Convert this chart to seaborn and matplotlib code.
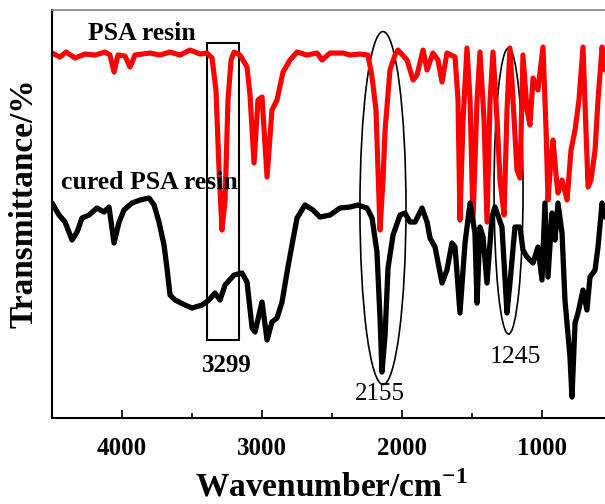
import matplotlib
matplotlib.use("Agg")
import matplotlib.pyplot as plt
from matplotlib.patches import Rectangle, Ellipse
import seaborn as sns
import pandas as pd

# PSA resin (red)
red_wn = [4500, 4443, 4400, 4336, 4264, 4193, 4121, 4086, 4057, 4029, 3979, 3943, 3907,
          3800, 3729, 3657, 3586, 3514, 3443, 3393, 3357, 3329, 3307, 3286, 3264, 3243,
          3221, 3200, 3157, 3107, 3086, 3057, 3029, 3000, 2964, 2929, 2893, 2850, 2800,
          2750, 2679, 2607, 2571, 2514, 2421, 2371, 2300, 2243, 2214, 2186, 2157, 2136,
          2121, 2086, 2050, 2029, 1964, 1921, 1893, 1850, 1821, 1779, 1743, 1714, 1679,
          1621, 1600, 1586, 1564, 1536, 1514, 1493, 1464, 1443, 1414, 1393, 1371, 1350,
          1321, 1300, 1271, 1250, 1229, 1207, 1179, 1157, 1136, 1107, 1086, 1064, 1029,
          993, 971, 957, 936, 921, 900, 886, 857, 821, 793, 764, 736, 707, 686, 671, 650,
          621, 600, 571, 550]
red_t = [365, 361, 366, 360, 364, 363, 366, 363, 346, 363, 362, 351, 363,
         365, 363, 366, 363, 368, 364, 365, 360, 328, 248, 188, 218, 318,
         358, 366, 363, 351, 323, 255, 318, 321, 241, 308, 318, 346, 358,
         366, 363, 365, 358, 365, 365, 363, 364, 363, 341, 308, 188, 238,
         288, 348, 363, 368, 358, 338, 343, 368, 348, 365, 358, 336, 365,
         361, 318, 198, 298, 370, 318, 198, 318, 366, 298, 196, 318, 366,
         298, 238, 203, 308, 370, 318, 248, 240, 363, 308, 293, 340, 328,
         371, 288, 218, 258, 278, 243, 225, 238, 218, 268, 288, 318, 371, 288, 231, 238,
         268, 318, 371, 348]

# cured PSA resin (black)
blk_wn = [4500, 4450, 4407, 4357, 4321, 4286, 4236, 4179, 4129, 4093, 4057, 4021, 3986,
          3929, 3871, 3807, 3771, 3736, 3700, 3679, 3657, 3621, 3550, 3500, 3429, 3379,
          3336, 3300, 3264, 3200, 3143, 3107, 3071, 3050, 3000, 2964, 2929, 2893, 2857,
          2821, 2786, 2750, 2693, 2636, 2586, 2514, 2443, 2371, 2314, 2250, 2214, 2179,
          2157, 2143, 2121, 2100, 2064, 2014, 1979, 1943, 1907, 1857, 1821, 1800, 1764,
          1714, 1679, 1643, 1621, 1586, 1550, 1514, 1479, 1464, 1443, 1421, 1393, 1357,
          1336, 1286, 1250, 1229, 1193, 1157, 1136, 1107, 1064, 1029, 1000, 979, 957, 929,
          907, 886, 857, 836, 800, 786, 764, 743, 707, 679, 657, 621, 600, 571, 550]
blk_t = [215, 203, 196, 178, 186, 200, 203, 210, 206, 211, 175, 196, 208,
         215, 218, 220, 213, 196, 173, 150, 123, 118, 113, 110, 113, 118,
         125, 118, 133, 143, 145, 136, 90, 86, 116, 78, 96, 100, 116,
         146, 173, 200, 213, 208, 201, 203, 210, 211, 213, 210, 200, 166,
         100, 46, 83, 150, 183, 203, 205, 196, 196, 210, 196, 180, 171,
         135, 148, 175, 171, 105, 175, 215, 185, 115, 191, 181, 135, 201,
         211, 191, 105, 135, 191, 191, 168, 161, 155, 171, 138, 215, 141, 205,
         178, 215, 185, 118, 61, 21, 95, 105, 128, 108, 141, 148, 171, 215, 201]

major_ticks = [4000, 3000, 2000, 1000]
minor_ticks = [3500, 2500, 1500]

sns.set_style("white")
plt.rcParams['font.family'] = ['Liberation Serif', 'DejaVu Serif']
plt.rcParams['text.color'] = 'black'
plt.rcParams['axes.labelcolor'] = 'black'
plt.rcParams['xtick.color'] = 'black'
plt.rcParams['mathtext.fontset'] = 'custom'
plt.rcParams['mathtext.rm'] = 'Liberation Serif'
plt.rcParams['mathtext.bf'] = 'Liberation Serif:bold'

fig = plt.figure(figsize=(6.05, 5.04), dpi=100)
ax = fig.add_axes([0.086, 0.1706, 0.914, 0.8095])

df_r = pd.DataFrame({"wn": red_wn, "t": red_t})
df_b = pd.DataFrame({"wn": blk_wn, "t": blk_t})
sns.lineplot(data=df_r, x="wn", y="t", sort=False, color="#ff0000", lw=3.7, ax=ax)
sns.lineplot(data=df_b, x="wn", y="t", sort=False, color="black", lw=3.8, ax=ax)

ax.set_xlim(4500, 550)
ax.set_ylim(0, 408)
ax.set_xticks(major_ticks)
ax.set_xticks(minor_ticks, minor=True)
ax.set_xticklabels([str(v) for v in major_ticks], fontsize=18, fontweight='bold')
ax.set_yticks([])
ax.tick_params(axis='x', which='major', direction='in', length=6, width=1.2, pad=14, bottom=True)
ax.tick_params(axis='x', which='minor', direction='in', length=3.5, width=1.2, bottom=True)

for s in ['left', 'bottom']:
    ax.spines[s].set_color('black')
    ax.spines[s].set_linewidth(1.5)
ax.spines['top'].set_color('#808080')
ax.spines['top'].set_linewidth(1.2)
ax.spines['right'].set_visible(False)

ax.set_xlabel(r"Wavenumber/cm$^{\mathbf{-1}}$", fontsize=24, fontweight='bold')
ax.set_ylabel("Transmittance/%", fontsize=24, fontweight='bold')
ax.xaxis.set_label_coords(0.506, -0.169)
ax.yaxis.set_label_coords(-0.05, 0.527)
ax.xaxis.label.set_va('center')
ax.yaxis.label.set_va('center')

# annotations
ax.add_patch(Rectangle((3393, 78), 3164 - 3393, 375 - 78, fill=False, ec='black', lw=1.5))
ax.add_patch(Ellipse((2136, 210), 329, 353, fill=False, ec='black', lw=1.2))
ax.add_patch(Ellipse((1239, 227), 207, 286, fill=False, ec='black', lw=1.2))

ax.text(3857, 385, "PSA resin", ha='center', va='center', fontsize=18.5, fontweight='bold')
ax.text(3807, 236, "cured PSA resin", ha='center', va='center', fontsize=18.5, fontweight='bold')
ax.text(3250, 53, "3299", ha='center', va='center', fontsize=18, fontweight='bold')
ax.text(2157, 24, "2155", ha='center', va='center', fontsize=18)
ax.text(1193, 61, "1245", ha='center', va='center', fontsize=18.5)

fig.savefig("out.png", dpi=100)
